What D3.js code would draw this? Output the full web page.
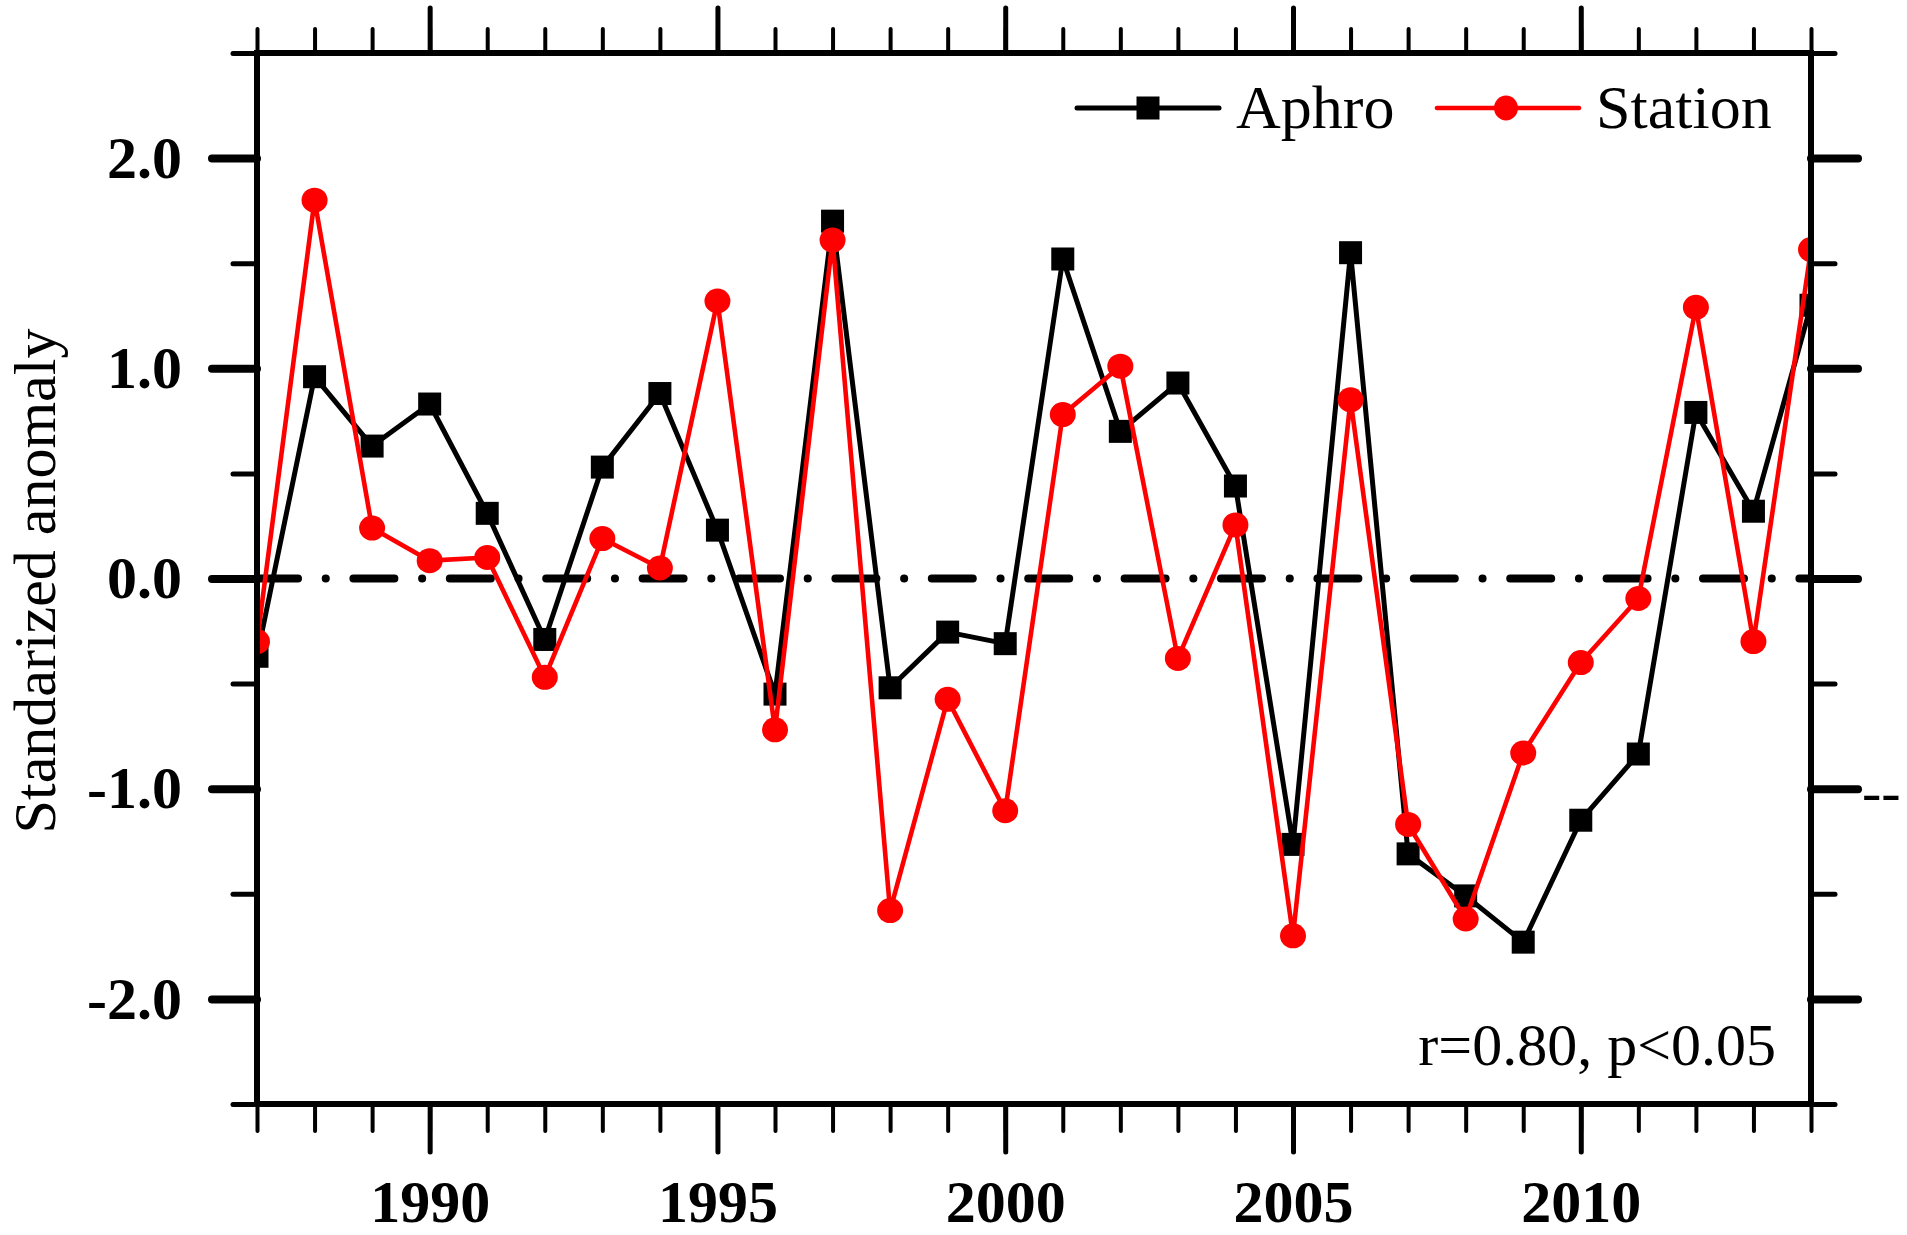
<!DOCTYPE html>
<html>
<head>
<meta charset="utf-8">
<script src="https://cdn.jsdelivr.net/npm/d3@7"></script>
<style>
  body { margin: 0; background: #fff; }
  text { font-family: "Liberation Serif", "Times New Roman", serif; }
</style>
</head>
<body>
<div id="chart"></div>
<script>
const years = d3.range(1987, 2015);
const aphro = [-0.37, 0.96, 0.63, 0.83, 0.31, -0.29, 0.53, 0.88, 0.23, -0.55,
  1.70, -0.52, -0.255, -0.31, 1.52, 0.70, 0.93, 0.44, -1.265, 1.55,
  -1.31, -1.51, -1.73, -1.15, -0.835, 0.79, 0.32, 1.30];
const station = [-0.30, 1.80, 0.24, 0.085, 0.10, -0.47, 0.19, 0.05, 1.32, -0.72,
  1.61, -1.58, -0.575, -1.105, 0.78, 1.01, -0.38, 0.255, -1.70, 0.85,
  -1.17, -1.62, -0.83, -0.40, -0.095, 1.29, -0.30, 1.565];
const xMajor = [1990, 1995, 2000, 2005, 2010];
const yMajor = [-2, -1, 0, 1, 2];
const yMinor = [-2.5, -1.5, -0.5, 0.5, 1.5, 2.5];
const seriesNames = ["Aphro", "Station"];
const statText = "r=0.80, p<0.05";

const width = 1907, height = 1235;
const m = { left: 257, right: 1811, top: 53, bottom: 1104 };

const svg = d3.select("#chart").append("svg")
  .attr("width", width).attr("height", height)
  .style("background", "#fff");

const x = d3.scaleLinear().domain([1987, 2014]).range([m.left, m.right]);
const y = d3.scaleLinear().domain([-2.5, 2.5]).range([m.bottom, m.top]);

svg.append("clipPath").attr("id", "plotclip")
  .append("rect").attr("x", m.left).attr("y", m.top)
  .attr("width", m.right - m.left).attr("height", m.bottom - m.top);

const plot = svg.append("g").attr("clip-path", "url(#plotclip)");

// zero reference line, long dash / dot
plot.append("line")
  .attr("x1", m.left).attr("x2", m.right)
  .attr("y1", y(0)).attr("y2", y(0))
  .attr("stroke", "#000").attr("stroke-width", 8)
  .attr("stroke-linecap", "round")
  .attr("stroke-dasharray", "41,27.7,0.1,27.6");

const line = d3.line().x((d, i) => x(years[i])).y(d => y(d));

plot.append("path").datum(aphro)
  .attr("d", line).attr("fill", "none")
  .attr("stroke", "#000").attr("stroke-width", 5)
  .attr("stroke-linejoin", "round");
plot.selectAll(".sq").data(aphro).enter().append("rect")
  .attr("class", "sq")
  .attr("x", (d, i) => x(years[i]) - 11.5)
  .attr("y", d => y(d) - 11.5)
  .attr("width", 23).attr("height", 23)
  .attr("fill", "#000");

plot.append("path").datum(station)
  .attr("d", line).attr("fill", "none")
  .attr("stroke", "#ff0000").attr("stroke-width", 4.6)
  .attr("stroke-linejoin", "round");
plot.selectAll(".dot").data(station).enter().append("ellipse")
  .attr("class", "dot")
  .attr("cx", (d, i) => x(years[i]))
  .attr("cy", d => y(d))
  .attr("rx", 13).attr("ry", 12.5)
  .attr("fill", "#ff0000");

// ticks via d3 axes
function styleAxis(g, w) {
  g.select(".domain").remove();
  g.selectAll(".tick line").attr("stroke", "#000").attr("stroke-width", w).attr("stroke-linecap", "round");
}
const yFormat = d => d3.format(".1f")(d).replace("\u2212", "-");

svg.append("g").attr("transform", `translate(0,${m.bottom})`)
  .call(d3.axisBottom(x).tickValues(years).tickSize(27).tickFormat(""))
  .call(g => styleAxis(g, 4));
svg.append("g").attr("transform", `translate(0,${m.bottom})`)
  .call(d3.axisBottom(x).tickValues(xMajor).tickSize(48).tickFormat(d3.format("d")))
  .call(g => styleAxis(g, 5))
  .call(g => g.selectAll("text").attr("y", 118).attr("dy", 0)
    .attr("font-size", 60).attr("font-weight", "bold").attr("fill", "#000"));

svg.append("g").attr("transform", `translate(0,${m.top})`)
  .call(d3.axisTop(x).tickValues(years).tickSize(24).tickFormat(""))
  .call(g => styleAxis(g, 4));
svg.append("g").attr("transform", `translate(0,${m.top})`)
  .call(d3.axisTop(x).tickValues(xMajor).tickSize(45).tickFormat(""))
  .call(g => styleAxis(g, 5));

svg.append("g").attr("transform", `translate(${m.left},0)`)
  .call(d3.axisLeft(y).tickValues(yMinor).tickSize(24).tickFormat(""))
  .call(g => styleAxis(g, 5));
svg.append("g").attr("transform", `translate(${m.left},0)`)
  .call(d3.axisLeft(y).tickValues(yMajor).tickSize(45).tickPadding(30).tickFormat(yFormat))
  .call(g => styleAxis(g, 8))
  .call(g => g.selectAll("text").attr("font-size", 60).attr("font-weight", "bold").attr("fill", "#000"));

svg.append("g").attr("transform", `translate(${m.right},0)`)
  .call(d3.axisRight(y).tickValues(yMinor).tickSize(24).tickFormat(""))
  .call(g => styleAxis(g, 5));
svg.append("g").attr("transform", `translate(${m.right},0)`)
  .call(d3.axisRight(y).tickValues(yMajor).tickSize(47).tickFormat(""))
  .call(g => styleAxis(g, 8));

// frame
svg.append("rect")
  .attr("x", m.left).attr("y", m.top)
  .attr("width", m.right - m.left).attr("height", m.bottom - m.top)
  .attr("fill", "none").attr("stroke", "#000").attr("stroke-width", 6);

// y title
svg.append("text")
  .attr("transform", "translate(55,581) rotate(-90)")
  .attr("text-anchor", "middle")
  .attr("font-size", 60)
  .text("Standarized anomaly");

// stray mark at right edge
svg.append("text")
  .attr("x", 1862).attr("y", 811)
  .attr("font-size", 58)
  .text("--");

// legend
const lg = svg.append("g");
lg.append("line").attr("x1", 1077).attr("x2", 1219).attr("y1", 108).attr("y2", 108)
  .attr("stroke", "#000").attr("stroke-width", 5).attr("stroke-linecap", "round");
lg.append("rect").attr("x", 1148 - 11.5).attr("y", 108 - 11.5).attr("width", 23).attr("height", 23).attr("fill", "#000");
lg.append("text").attr("x", 1236).attr("y", 128).attr("font-size", 62).text(seriesNames[0]);
lg.append("line").attr("x1", 1437).attr("x2", 1579).attr("y1", 108).attr("y2", 108)
  .attr("stroke", "#ff0000").attr("stroke-width", 4.6).attr("stroke-linecap", "round");
lg.append("ellipse").attr("cx", 1506).attr("cy", 108).attr("rx", 12).attr("ry", 12.5).attr("fill", "#ff0000");
lg.append("text").attr("x", 1596).attr("y", 128).attr("font-size", 62).text(seriesNames[1]);

svg.append("text")
  .attr("x", 1776).attr("y", 1065)
  .attr("text-anchor", "end")
  .attr("font-size", 60)
  .text(statText);
</script>
</body>
</html>
